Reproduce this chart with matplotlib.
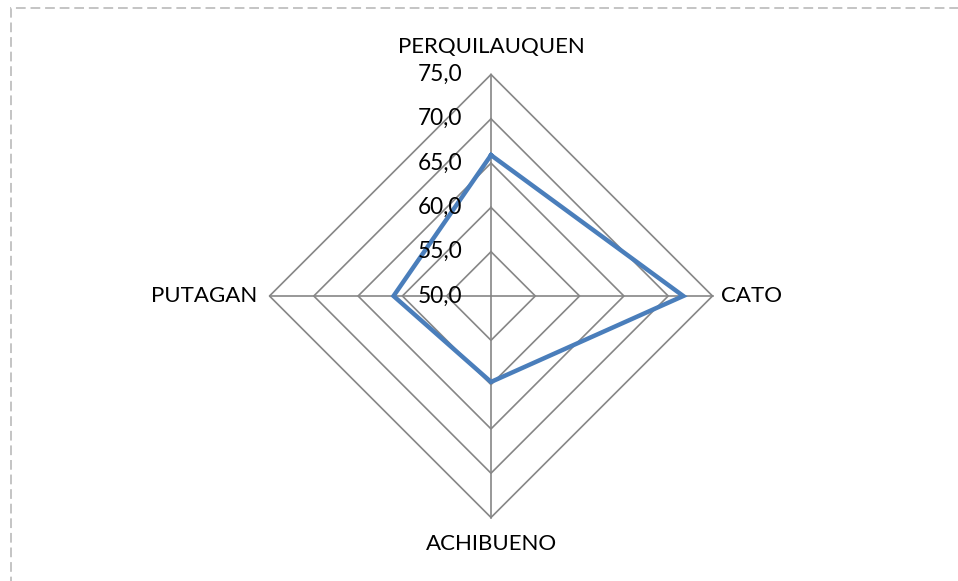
import numpy as np
import matplotlib
matplotlib.use("Agg")
import matplotlib.pyplot as plt
import matplotlib.patches as mpatches

# datos del gráfico radar
categories = ["PERQUILAUQUEN", "CATO", "ACHIBUENO", "PUTAGAN"]
values = [65.9, 71.7, 59.7, 61.0]
ring_levels = [50, 55, 60, 65, 70, 75]
ring_labels = ["50,0", "55,0", "60,0", "65,0", "70,0", "75,0"]

BLUE = "#4A7EBB"
GRID = "#868686"

plt.rcParams["font.family"] = ["Lato", "DejaVu Sans"]

W, H = 958, 581
fig = plt.figure(figsize=(W / 100, H / 100), dpi=100)

# borde punteado (solo arriba e izquierda visibles)
top = 1 - 8 / H
border = mpatches.Rectangle((11 / W, -0.2), 1.5, top + 0.2,
                            transform=fig.transFigure, fill=False,
                            edgecolor="#C4C4C4", linewidth=1.4,
                            linestyle=(0, (5, 2.5)))
fig.add_artist(border)

cx, cy, R = 491, 296, 221.5
ax = fig.add_axes([(cx - R) / W, 1 - (cy + R) / H, 2 * R / W, 2 * R / H],
                  projection="polar")
ax.set_theta_zero_location("N")
ax.set_theta_direction(-1)
ax.set_rlim(ring_levels[0], ring_levels[-1])
ax.grid(False)
ax.set_xticks([])
ax.set_yticks([])
ax.spines["polar"].set_visible(False)
ax.patch.set_visible(False)

n = len(categories)
theta = np.arange(n) * 2 * np.pi / n
theta_c = np.append(theta, theta[0])

# anillos y ejes
for lev in ring_levels[1:]:
    ax.plot(theta_c, [lev] * (n + 1), color=GRID, lw=1.2, clip_on=False)
for t in theta:
    ax.plot([t, t], [ring_levels[0], ring_levels[-1]], color=GRID, lw=1.2,
            clip_on=False)

# serie
ax.plot(theta_c, values + values[:1], color=BLUE, lw=3.2, clip_on=False,
        solid_joinstyle="miter")

# etiquetas de valores
for lev, lab in zip(ring_levels, ring_labels):
    ax.annotate(lab, xy=(0, lev), xytext=(-29, 0), textcoords="offset pixels",
                ha="right", va="center", fontsize=16.3, color="black",
                annotation_clip=False)

# etiquetas de categorías
offsets = [(0, 27, "center"), (9, 0, "left"), (0, -27, "center"), (-12, 0, "right")]
for t, cat, (dx, dy, ha) in zip(theta, categories, offsets):
    ax.annotate(cat, xy=(t, ring_levels[-1]), xytext=(dx, dy),
                textcoords="offset pixels", ha=ha, va="center",
                fontsize=16, color="black", annotation_clip=False)

fig.savefig("out.png", dpi=100)
